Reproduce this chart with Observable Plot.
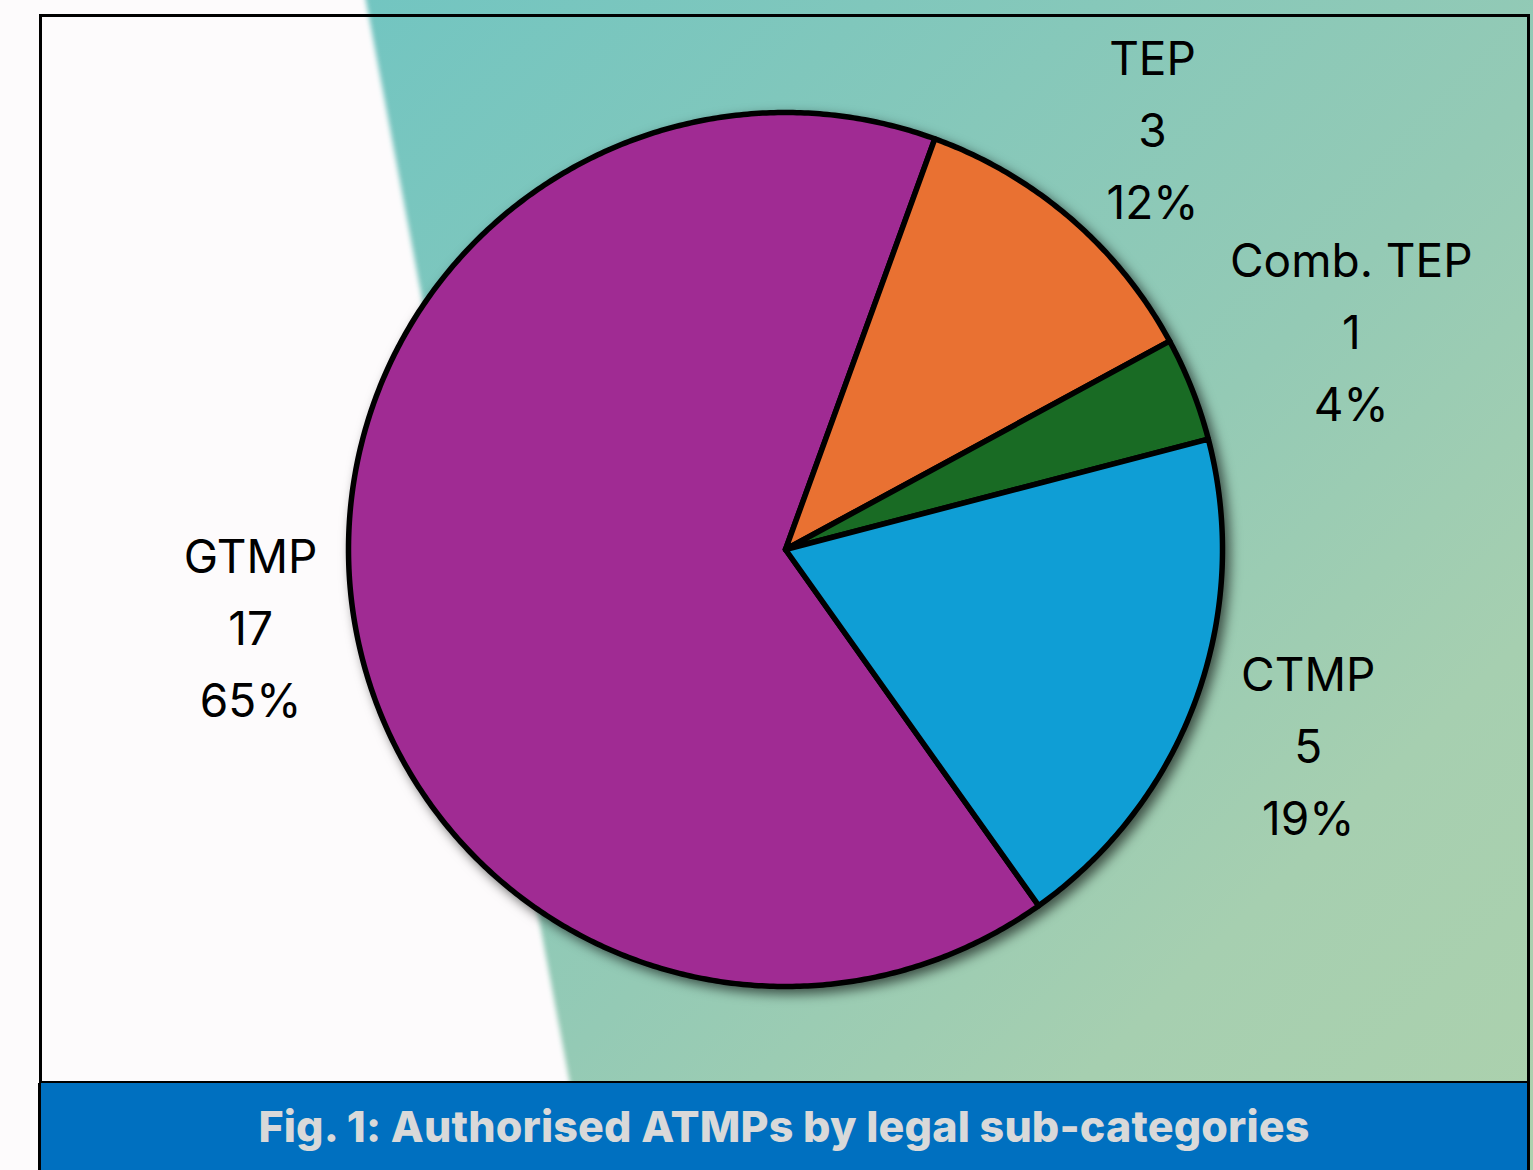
<!DOCTYPE html>
<html>
<head>
<meta charset="utf-8">
<script src="https://cdn.jsdelivr.net/npm/d3@7"></script>
<script src="https://cdn.jsdelivr.net/npm/@observablehq/plot@0.6"></script>
<style>
  html, body { margin: 0; padding: 0; background: #fdfbfc; }
  #page { position: relative; width: 1533px; height: 1170px; overflow: hidden; background: #fdfbfc; }
  #teal { position: absolute; left: 0; top: 0; width: 1533px; height: 1170px;
          background: linear-gradient(135deg, #72c5c1 13%, #94cab5 60%, #a6cfb0 80%, #acd1ad 100%); }
  #whiteWrap { position: absolute; left: 0; top: 0; width: 1533px; height: 1170px; filter: blur(2.5px); }
  #white { position: absolute; left: -20px; top: -20px; width: 1600px; height: 1210px; background: #fdfbfc;
           clip-path: polygon(0 0, 382px 0, 610px 1210px, 0 1210px); }
  #chart { position: absolute; left: 0; top: 0; }
  #caption { position: absolute; left: 38px; top: 1083px; width: 1492px; height: 90px; box-sizing: border-box;
             border-left: 3px solid #000; border-right: 3px solid #000; background: #0070c0;
             color: #d9d9d9; font-family: Inter, "Open Sans", sans-serif; font-weight: 800;
             text-align: center; white-space: nowrap; }
  #caption span { position: absolute; left: 0; right: 0; top: 43px; transform: translateY(-50%); }
</style>
</head>
<body>
<div id="page">
  <div id="teal"></div>
  <div id="whiteWrap"><div id="white"></div></div>
  <div id="chart"></div>
  <div id="caption"><span id="capText"></span></div>
</div>
<script>
// ---- data ----
const categories = ["GTMP", "TEP", "Comb. TEP", "CTMP"];
const counts = [17, 3, 1, 5];
const percentLabels = ["65%", "12%", "4%", "19%"];
const sliceColors = ["#A02B93", "#E97132", "#196B24", "#0F9ED5"];
const captionText = "Fig. 1: Authorised ATMPs by legal sub-categories";

// ---- layout ----
const W = 1533, H = 1083;
const cx = 785, cy = 549, R = 437;
const firstSliceAngle = 144.6; // degrees clockwise from 12 o'clock
const labelFont = "Inter, 'Open Sans', sans-serif";
const labelFontSize = 46;
const lineGap = 72;

const a0 = firstSliceAngle * Math.PI / 180;
const arcs = d3.pie().sort(null).value(d => d).startAngle(a0).endAngle(a0 + 2 * Math.PI)(counts);

const slicePts = [];
arcs.forEach((a, i) => {
  const cat = categories[i];
  slicePts.push({cat, x: 0, y: 0});
  const n = Math.max(2, Math.ceil((a.endAngle - a.startAngle) / (Math.PI / 360)));
  for (let k = 0; k <= n; k++) {
    const t = a.startAngle + (a.endAngle - a.startAngle) * k / n;
    slicePts.push({cat, x: Math.sin(t), y: Math.cos(t)});
  }
});

// label placement: outside end, along the slice bisector
const ctx = document.createElement("canvas").getContext("2d");
ctx.font = `${labelFontSize}px ${labelFont}`;
const R0 = 461, halfH = 94;
const labels = arcs.map((a, i) => {
  const lines = [categories[i], String(counts[i]), percentLabels[i]];
  const w = d3.max(lines, s => ctx.measureText(s).width);
  const m = (a.startAngle + a.endAngle) / 2;
  const dist = R0 + Math.abs(Math.sin(m)) * w / 2 + Math.abs(Math.cos(m)) * halfH;
  return {text: lines.join("\n"), x: dist * Math.sin(m) / R, y: dist * Math.cos(m) / R};
});

const chart = Plot.plot({
  width: W, height: H,
  marginLeft: 40, marginRight: 5, marginTop: 15, marginBottom: 1,
  x: {domain: [-1, 1], range: [cx - R, cx + R], axis: null},
  y: {domain: [-1, 1], range: [cy + R, cy - R], axis: null},
  color: {domain: categories, range: sliceColors},
  style: {background: "transparent", overflow: "visible", fontFamily: labelFont},
  marks: [
    Plot.frame({stroke: "#000", strokeWidth: 3}),
    Plot.line(slicePts, {x: "x", y: "y", z: "cat", fill: "cat", stroke: "#000", strokeWidth: 5.5,
                         strokeLinejoin: "round", curve: "linear-closed"}),
    Plot.text(labels, {x: "x", y: "y", text: "text", fontSize: labelFontSize, lineHeight: lineGap / labelFontSize,
                       fill: "#000", textAnchor: "middle", lineAnchor: "middle"})
  ]
});
document.getElementById("chart").appendChild(chart);
const lineG = chart.querySelector('g[aria-label="line"]');
if (lineG) lineG.style.filter = "drop-shadow(5px 5px 6px rgba(0,0,0,0.6))";

// caption
const cap = document.getElementById("capText");
cap.textContent = captionText;
const capSize = 43;
ctx.font = `800 ${capSize}px Inter, 'Open Sans', sans-serif`;
const capW = ctx.measureText(captionText).width;
cap.style.fontSize = capSize + "px";
cap.style.letterSpacing = ((1053 - capW) / captionText.length).toFixed(2) + "px";
</script>
</body>
</html>
